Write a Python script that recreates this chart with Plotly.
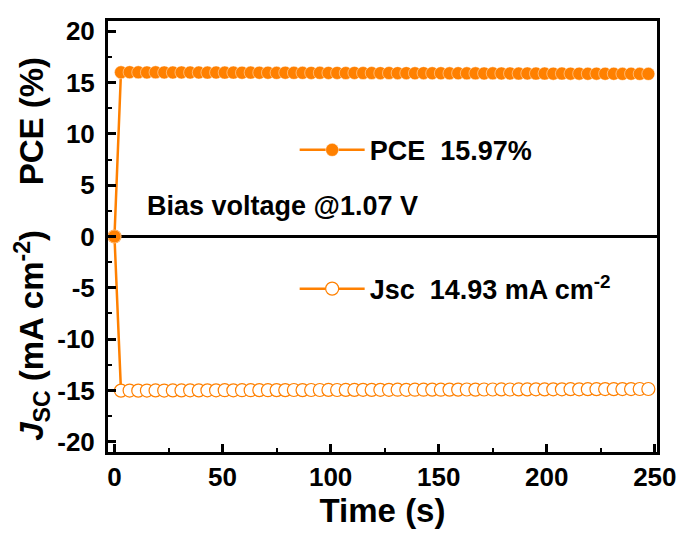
import plotly.graph_objects as go

# ---------------- data ----------------
time_s = [0,
          3, 7, 11, 15, 19, 23, 27, 31, 35, 39,
          43, 47, 51, 55, 59, 63, 67, 71, 75, 79,
          83, 87, 91, 95, 99, 103, 107, 111, 115, 119,
          123, 127, 131, 135, 139, 143, 147, 151, 155, 159,
          163, 167, 171, 175, 179, 183, 187, 191, 195, 199,
          203, 207, 211, 215, 219, 223, 227, 231, 235, 239,
          243, 247]

pce = [0,
       16.00, 16.01, 16.00, 15.99, 16.00, 15.99, 15.98, 15.99, 15.98, 15.98,
       15.97, 15.98, 15.97, 15.97, 15.96, 15.97, 15.96, 15.96, 15.95, 15.96,
       15.95, 15.95, 15.94, 15.95, 15.94, 15.94, 15.93, 15.94, 15.93, 15.93,
       15.92, 15.93, 15.92, 15.92, 15.91, 15.92, 15.91, 15.91, 15.90, 15.91,
       15.90, 15.90, 15.89, 15.90, 15.89, 15.89, 15.88, 15.89, 15.88, 15.88,
       15.87, 15.88, 15.87, 15.87, 15.86, 15.87, 15.86, 15.86, 15.85, 15.86,
       15.85, 15.85]

jsc = [0,
       -15.02, -15.01, -15.02, -15.01, -15.00, -15.01, -15.00, -15.00, -14.99, -15.00,
       -14.99, -14.99, -14.98, -14.99, -14.98, -14.98, -14.97, -14.98, -14.97, -14.97,
       -14.96, -14.97, -14.96, -14.96, -14.95, -14.96, -14.95, -14.95, -14.94, -14.95,
       -14.94, -14.94, -14.93, -14.94, -14.93, -14.93, -14.92, -14.93, -14.92, -14.92,
       -14.91, -14.92, -14.91, -14.91, -14.90, -14.91, -14.90, -14.90, -14.89, -14.90,
       -14.89, -14.89, -14.88, -14.89, -14.88, -14.88, -14.87, -14.88, -14.87, -14.87,
       -14.86, -14.86]

x_ticks = [0, 50, 100, 150, 200, 250]
y_ticks = [-20, -15, -10, -5, 0, 5, 10, 15, 20]
y_ticktext = ["-20", "-15", "-10", "-5", "0", "5", "10", "15", "20"]

pce_label = "PCE\u00a0\u00a015.97%"
jsc_label = "Jsc\u00a0\u00a014.93 mA cm<sup>-2</sup>"
bias_label = "Bias voltage @1.07 V"

# ---------------- style ----------------
ORANGE = "#FF8000"
FONT = "Liberation Sans, Arial, sans-serif"

fig = go.Figure()

fig.add_trace(go.Scatter(
    x=time_s, y=jsc, mode="lines+markers", name=jsc_label, legend="legend2",
    line=dict(color=ORANGE, width=2.5),
    marker=dict(symbol="circle", size=13, color="white",
                line=dict(color=ORANGE, width=1.2)),
))
fig.add_trace(go.Scatter(
    x=time_s, y=pce, mode="lines+markers", name=pce_label, legend="legend",
    line=dict(color=ORANGE, width=2.5),
    marker=dict(symbol="circle", size=13, color=ORANGE,
                line=dict(color="rgba(255,255,255,0.55)", width=0.8)),
))

axis_common = dict(
    showline=True, linecolor="black", linewidth=3, mirror=True,
    ticks="inside", ticklen=8, tickwidth=2.5, tickcolor="black",
    showgrid=False,
    tickfont=dict(family=FONT, size=26, color="black", weight="bold"),
)

fig.update_xaxes(
    range=[-3, 251], tickmode="array", tickvals=x_ticks,
    minor=dict(ticks="inside", ticklen=4, tickwidth=2, tickcolor="black", dtick=25, tick0=0),
    title=dict(text="Time (s)", font=dict(family=FONT, size=33, color="black", weight="bold"),
               standoff=6),
    zeroline=False,
    **axis_common,
)
fig.update_yaxes(
    range=[-21, 21], tickmode="array", tickvals=y_ticks, ticktext=y_ticktext,
    minor=dict(ticks="inside", ticklen=4, tickwidth=2, tickcolor="black", dtick=2.5, tick0=0),
    zeroline=True, zerolinecolor="black", zerolinewidth=3,
    ticklabelstandoff=5,
    **axis_common,
)

legend_common = dict(
    xanchor="left", yanchor="middle", bgcolor="rgba(0,0,0,0)", borderwidth=0,
    font=dict(family=FONT, size=27, color="black", weight="bold"),
    itemwidth=65,
)
fig.update_layout(
    legend=dict(x=0.34, y=0.70, **legend_common),
    legend2=dict(x=0.34, y=0.378, **legend_common),
    showlegend=True,
)

fig.add_annotation(
    x=14, y=3.0, xref="x", yref="y", text=bias_label, showarrow=False,
    xanchor="left", yanchor="middle",
    font=dict(family=FONT, size=27, color="black", weight="bold"),
)
fig.add_annotation(
    x=-0.138, y=0.768, xref="paper", yref="paper", text="PCE (%)",
    textangle=-90, showarrow=False, xanchor="center", yanchor="middle",
    font=dict(family=FONT, size=33, color="black", weight="bold"),
)
fig.add_annotation(
    x=-0.138, y=0.27, xref="paper", yref="paper",
    text="<i>J</i><sub>SC</sub> (mA cm<sup>-2</sup>)",
    textangle=-90, showarrow=False, xanchor="center", yanchor="middle",
    font=dict(family=FONT, size=33, color="black", weight="bold"),
)

# the page body adds an 8px offset, so the figure is 8px smaller
fig.update_layout(
    width=678, height=530,
    margin=dict(l=100, r=29, t=8, b=86),
    paper_bgcolor="white", plot_bgcolor="white",
)

fig.write_html("out.html")
